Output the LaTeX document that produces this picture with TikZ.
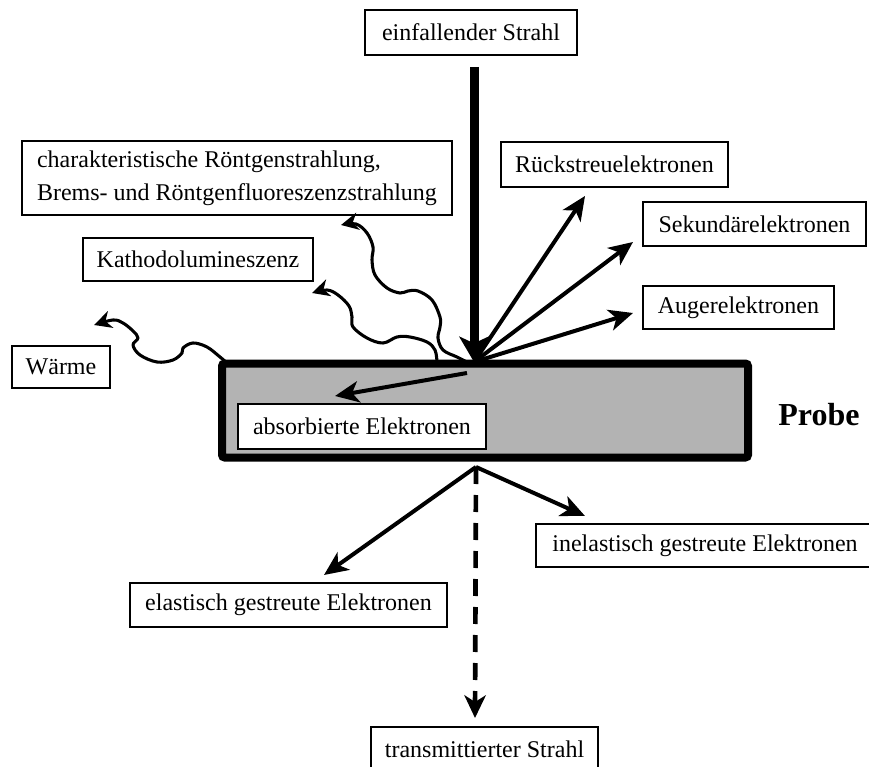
\documentclass[tikz,border=0pt]{standalone}
\usepackage{fontspec}
\setmainfont{Liberation Serif}
\usetikzlibrary{arrows.meta}
\definecolor{probegray}{HTML}{B3B3B3}
\begin{document}
\begin{tikzpicture}[x=0.75pt,y=-0.75pt,
  lbl/.style={draw, line width=1.2pt, fill=white, inner sep=0pt,
    font=\fontsize{18}{24.5}\selectfont},
  ray/.style={line width=3pt, -{Stealth[length=18pt,width=16pt,inset=5pt]}},
  beamline/.style={line width=6.75pt, -{Stealth[length=19pt,width=22pt,inset=5pt]}},
  wave/.style={line width=2.3pt, line join=round, line cap=round,
    -{Stealth[length=13pt,width=13pt,inset=4pt]}},
]
\useasboundingbox (0,0) rectangle (869,767);

% sample
\node[draw, line width=6pt, fill=probegray, rounded corners=2pt,
  minimum width=394.5pt, minimum height=70.5pt] (sample) at (485,410.5) {};
\node[font=\bfseries\fontsize{24}{28}\selectfont] (probe) at (819,415) {Probe};

% labels
\node[lbl, minimum width=159pt, minimum height=33.75pt] (einf) at (471,32.5) {einfallender Strahl};
\node[lbl, minimum width=322.5pt, minimum height=55.5pt, align=left] (rx) at (237,178)
  {charakteristische Röntgenstrahlung,\\Brems- und Röntgenfluoreszenzstrahlung};
\node[lbl, minimum width=172.5pt, minimum height=32.25pt] (kath) at (198,259.5) {Kathodolumineszenz};
\node[lbl, minimum width=73.5pt, minimum height=31.5pt] (waerme) at (61,367) {Wärme};
\node[lbl, minimum width=170.25pt, minimum height=33.75pt] (rueck) at (614.5,164.5) {Rückstreuelektronen};
\node[lbl, minimum width=167.25pt, minimum height=33pt] (sek) at (754.5,224) {Sekundärelektronen};
\node[lbl, minimum width=143.25pt, minimum height=32.25pt] (auger) at (738.5,307.5) {Augerelektronen};
\node[lbl, minimum width=186pt, minimum height=33.75pt] (abs) at (362,426.5) {absorbierte Elektronen};
\node[lbl, minimum width=253.5pt, minimum height=32.25pt] (inel) at (705,545.5) {inelastisch gestreute Elektronen};
\node[lbl, minimum width=237.75pt, minimum height=33pt] (el) at (288.5,605) {elastisch gestreute Elektronen};
\node[lbl, minimum width=170.25pt, minimum height=33.75pt] (trans) at (484.5,749.5) {transmittierter Strahl};

% reference points
\coordinate (beamtop) at (474,67);
\coordinate (hit) at (474,362);
\coordinate (exit) at (476,467);
\coordinate (rueck-tip) at (585,196);
\coordinate (sek-tip) at (633,242);
\coordinate (auger-tip) at (633,313);
\coordinate (abs-start) at (467,373);
\coordinate (abs-tip) at (335,396);
\coordinate (el-tip) at (324,575);
\coordinate (inel-tip) at (585,516);
\coordinate (trans-tip) at (475,718);

% incident beam
\draw[beamline] (beamtop) -- (hit);

% emitted electrons
\draw[ray] (hit) -- (rueck-tip);
\draw[ray] (hit) -- (sek-tip);
\draw[ray] (hit) -- (auger-tip);
\draw[ray] (abs-start) -- (abs-tip);

% transmitted and scattered electrons
\draw[ray] (exit) -- (el-tip);
\draw[ray] (exit) -- (inel-tip);
\draw[line width=3.5pt, dash pattern=on 12.75pt off 8.25pt,
  -{Stealth[length=17pt,width=16pt,inset=5pt]}] (exit) -- (trans-tip);

% radiation (wavy)
\draw[wave] plot[smooth, tension=0.6] coordinates {
  (467,362) (457,357) (443,350) (438,338) (440,327) (440,317) (432,300)
  (418,291) (408,291) (400,293) (387,288) (375,275) (372,260) (373,247)
  (367,233) (356,224) (341,225)};
\draw[wave] plot[smooth, tension=0.6] coordinates {
  (437,362) (435,350) (427,342) (410,337) (397,337) (383,343) (367,338)
  (353,327) (352,317) (349,306) (338,295) (327,290) (312,293)};
\draw[wave] plot[smooth, tension=0.6] coordinates {
  (227,363) (220,357) (207,347) (193,343) (183,348) (182,353) (173,360)
  (157,362) (140,355) (133,345) (138,338) (133,331) (123,323) (113,320) (94,325)};
\end{tikzpicture}
\end{document}
